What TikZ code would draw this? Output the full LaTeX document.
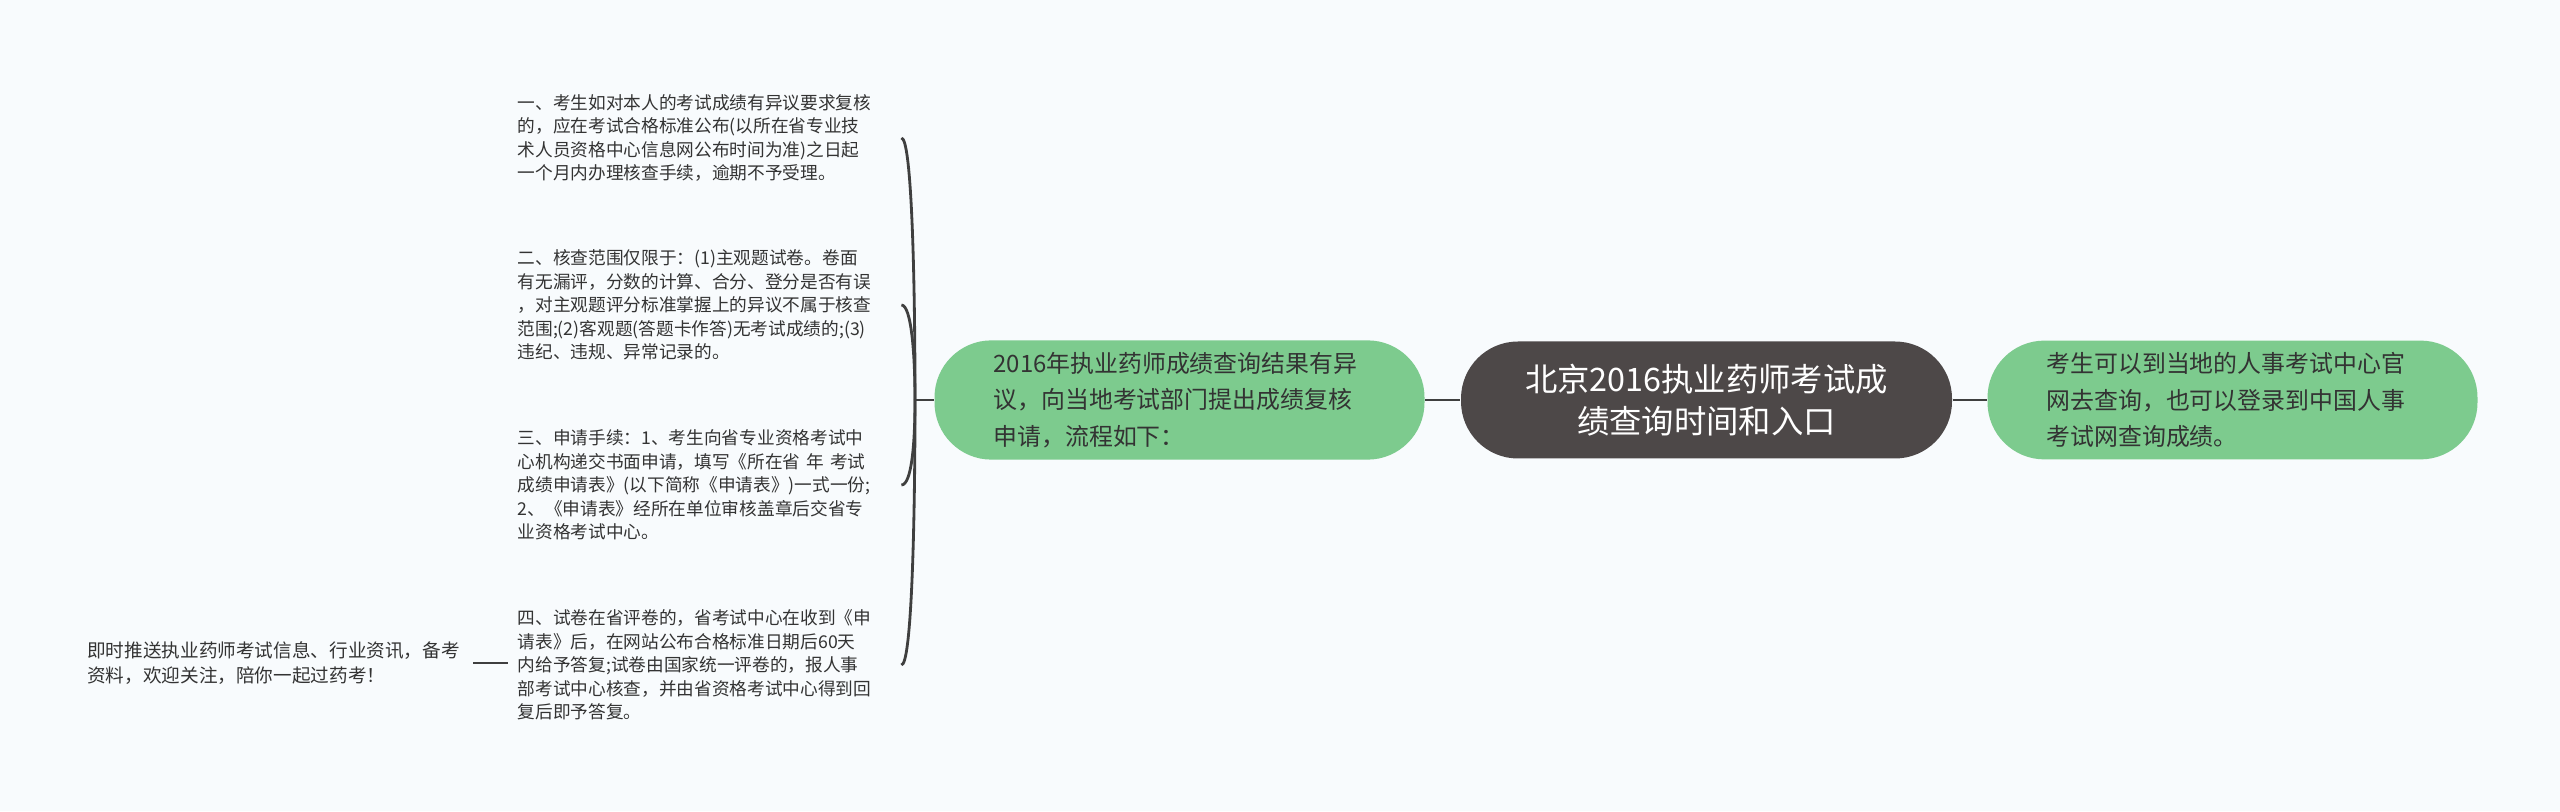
\documentclass[tikz,border=0pt]{standalone}
\usepackage{fontspec}
\newfontfamily\cjkfont{Noto Sans CJK SC}
\usepackage{xcolor}
\definecolor{PageBg}{HTML}{F8FBFD}
\definecolor{LeafGreen}{HTML}{7DCB8E}
\definecolor{RootGray}{HTML}{4D4848}
\definecolor{LinkGray}{HTML}{3F3F3F}
\definecolor{TextGray}{HTML}{333333}
\usepackage{tikz}
\usetikzlibrary{calc}

\begin{document}
\begin{tikzpicture}[
  link/.style={LinkGray, line width=0.8pt},
  rootbox/.style={fill=RootGray, text=white, rounded corners=0.57cm,
    minimum height=1.17cm, minimum width=4.91cm, align=center,
    font=\cjkfont\fontsize{9.2}{12}\selectfont},
  greenbox/.style={fill=LeafGreen, text=TextGray, rounded corners=0.57cm,
    minimum height=1.18cm, text width=3.72cm, inner xsep=0.59cm, align=left,
    font=\cjkfont\fontsize{6.8}{10.4}\selectfont},
  leaftext/.style={text=TextGray, text width=3.74cm, inner xsep=0.09cm,
    inner ysep=0pt, align=left, font=\cjkfont\fontsize{5.03}{6.7}\selectfont}
]
  % Canvas (2560 x 811 px, 1 px = 0.01 cm)
  \fill[PageBg] (0,0) rectangle (25.6,8.11);
  \useasboundingbox (0,0) rectangle (25.6,8.11);

  \def\rowY{4.11}   % main row
  \def\leafX{5.08}  % left edge of the detail texts

  % Main row
  \node[rootbox] (root) at (17.065,\rowY)
    {北京2016执业药师考试成\\绩查询时间和入口};
  \node[greenbox] (review) at (11.795,\rowY)
    {2016年执业药师成绩查询结果有异\\议，向当地考试部门提出成绩复核\\申请，流程如下：};
  \node[greenbox] (query) at (22.325,\rowY)
    {考生可以到当地的人事考试中心官\\网去查询，也可以登录到中国人事\\考试网查询成绩。};

  \draw[link] (review.east) -- (root.west);
  \draw[link] (root.east) -- (query.west);

  % Steps of the review
  \node[leaftext, anchor=west] (stepA) at (\leafX,6.73)
    {一、考生如对本人的考试成绩有异议要求复核\\的，应在考试合格标准公布(以所在省专业技\\术人员资格中心信息网公布时间为准)之日起\\一个月内办理核查手续，逾期不予受理。};
  \node[leaftext, anchor=west] (stepB) at (\leafX,5.06)
    {二、核查范围仅限于：(1)主观题试卷。卷面\\有无漏评，分数的计算、合分、登分是否有误\\，对主观题评分标准掌握上的异议不属于核查\\范围;(2)客观题(答题卡作答)无考试成绩的;(3)\\违纪、违规、异常记录的。};
  \node[leaftext, anchor=west] (stepC) at (\leafX,3.26)
    {三、申请手续：1、考生向省专业资格考试中\\心机构递交书面申请，填写《所在省 年 考试\\成绩申请表》(以下简称《申请表》)一式一份;\\2、《申请表》经所在单位审核盖章后交省专\\业资格考试中心。};
  \node[leaftext, anchor=west] (stepD) at (\leafX,1.46)
    {四、试卷在省评卷的，省考试中心在收到《申\\请表》后，在网站公布合格标准日期后60天\\内给予答复;试卷由国家统一评卷的，报人事\\部考试中心核查，并由省资格考试中心得到回\\复后即予答复。};

  % Bracket from the review node
  \coordinate (hub) at (9.15,\rowY);
  \draw[link] (review.west) -- (hub);
  \draw[link] (stepA.east) .. controls +(0.1,0) and +(0,1.3) .. (hub);
  \draw[link] (stepB.east) .. controls +(0.1,0) and +(0,0.45) .. (hub);
  \draw[link] (stepC.east) .. controls +(0.1,0) and +(0,-0.45) .. (hub);
  \draw[link] (stepD.east) .. controls +(0.1,0) and +(0,-1.3) .. (hub);

  % Note on the far left
  \node[leaftext, text width=3.74cm, inner xsep=0.11cm, anchor=east,
    font=\cjkfont\fontsize{5.3}{6.9}\selectfont] (notice) at (4.73,1.48)
    {即时推送执业药师考试信息、行业资讯，备考\\资料，欢迎关注，陪你一起过药考！};
  \draw[link] (notice.east) -- (notice.east -| stepD.west);
\end{tikzpicture}
\end{document}
